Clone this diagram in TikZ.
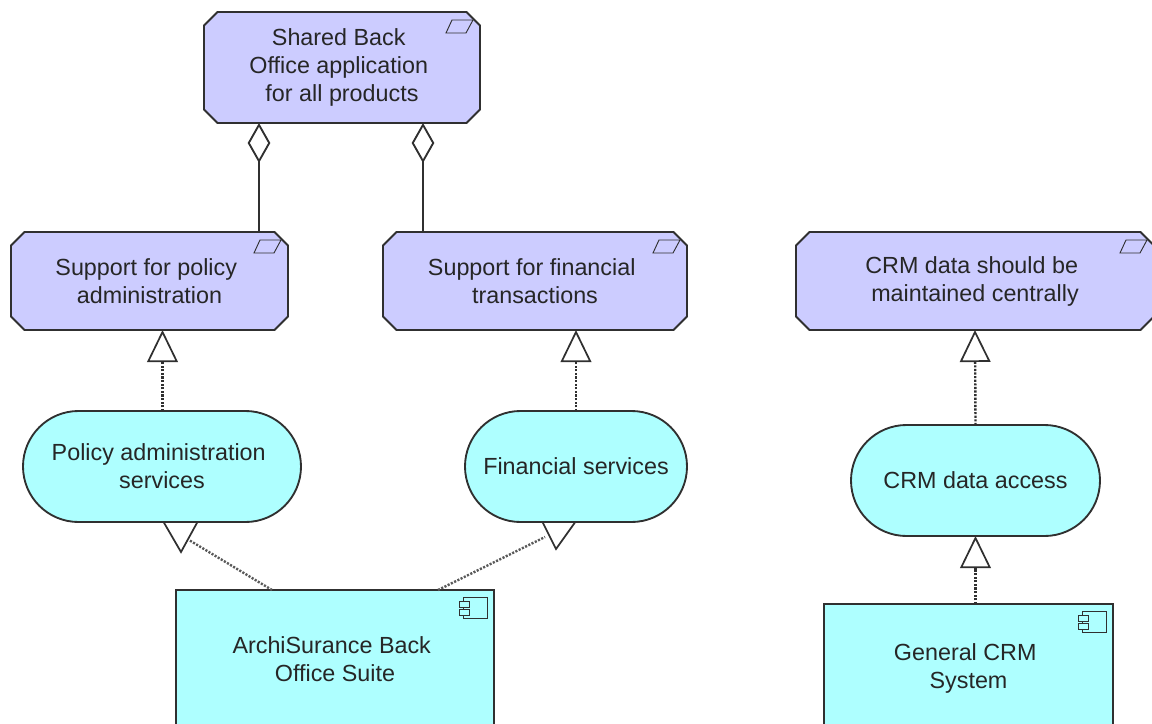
\documentclass[tikz,border=0pt]{standalone}
\usepackage{fontspec}
\setmainfont{Liberation Sans}
\usetikzlibrary{arrows.meta,shapes.misc}
\definecolor{goalfill}{HTML}{CCCCFF}
\definecolor{servfill}{HTML}{AEFFFF}
\definecolor{edgecol}{HTML}{303030}
\tikzset{
	every node/.style={align=center,font=\fontsize{17.5}{21}\selectfont,text=black!85,outer sep=0pt,inner sep=0pt},
	goal/.style={chamfered rectangle,chamfered rectangle xsep=7*0.75pt,chamfered rectangle ysep=6.5*0.75pt,draw=edgecol,line width=1.4pt,fill=goalfill},
	service/.style={rounded rectangle,draw=edgecol,line width=1.4pt,fill=servfill},
	component/.style={rectangle,draw=edgecol,line width=1.4pt,fill=servfill},
	aggregates/.style={draw=edgecol,line width=1.4pt,{Diamond[open,fill=white,length=30pt,width=17pt]}-},
	realizes/.style={draw=edgecol,line width=1.8pt,dash pattern=on 1.6pt off 1.1pt,-{Triangle[open,fill=white,length=24pt,width=23pt,line width=1.3pt]}},
	realizesline/.style={draw=edgecol!80,line width=1.8pt,dash pattern=on 1.6pt off 1.1pt},
	hollowtip/.style={draw=edgecol,line width=1.3pt,fill=white,line join=miter},
	iconline/.style={draw=edgecol,line width=0.7pt}
}
\newcommand{\trail}{\kern4.9pt\relax}
\newcommand{\goalicon}[1]{
	\begin{scope}[shift={(#1.north -| #1.east)}]
		\draw[iconline] (-34,21) -- (-28,8) -- (-7,8) -- (-14,21) -- cycle;
	\end{scope}
}
\newcommand{\compicon}[1]{
	\begin{scope}[shift={(#1.north east)}]
		\draw[iconline] (-31,7.5) rectangle (-6.5,28);
		\draw[iconline,fill=servfill] (-35,11) rectangle (-25,17);
		\draw[iconline,fill=servfill] (-35,19) rectangle (-25,25);
	\end{scope}
}
\begin{document}
\begin{tikzpicture}[x=0.75pt,y=-0.75pt]
	\useasboundingbox (0,0) rectangle (1152,724);
	% hollow tips that sit behind the services
	\coordinate (policytipl) at (163,521);
	\coordinate (policytipr) at (198,521);
	\coordinate (policytipb) at (181,552);
	\coordinate (fintipl) at (542,521);
	\coordinate (fintipr) at (576,521);
	\coordinate (fintipb) at (556,549);
	\draw[hollowtip] (policytipl) -- (policytipb) -- (policytipr) -- cycle;
	\draw[hollowtip] (fintipl) -- (fintipb) -- (fintipr) -- cycle;
	% goals
	\node[goal,minimum width=276*0.75pt,minimum height=111*0.75pt] (shared) at (342,67.5) {Shared Back\trail\\Office application\trail\\for all products};
	\node[goal,minimum width=277*0.75pt,minimum height=98*0.75pt] (policygoal) at (149.5,281) {Support for policy\trail\\administration};
	\node[goal,minimum width=304*0.75pt,minimum height=98*0.75pt] (fingoal) at (535,281) {Support for financial\trail\\transactions};
	\node[goal,minimum width=358*0.75pt,minimum height=98*0.75pt] (crmgoal) at (975,281) {CRM data should be\trail\\maintained centrally};
	% services
	\node[service,minimum width=278*0.75pt,minimum height=111*0.75pt] (policyserv) at (162,466.5) {Policy administration\trail\\services};
	\node[service,minimum width=222*0.75pt,minimum height=111*0.75pt] (finserv) at (576,466.5) {Financial services};
	\node[service,minimum width=249*0.75pt,minimum height=111*0.75pt] (crmserv) at (975.5,480.5) {CRM data access};
	% components
	\node[component,minimum width=318*0.75pt,minimum height=138*0.75pt] (backoffice) at (335,659) {ArchiSurance Back\trail\\Office Suite};
	\node[component,minimum width=289*0.75pt,minimum height=128*0.75pt] (crmsystem) at (968.5,668) {General CRM\trail\\System};
	% icons
	\goalicon{shared}
	\goalicon{policygoal}
	\goalicon{fingoal}
	\goalicon{crmgoal}
	\compicon{backoffice}
	\compicon{crmsystem}
	% connectors
	\draw[aggregates] ([xshift=-83*0.75pt]shared.south) -- ([xshift=109.5*0.75pt]policygoal.north);
	\draw[aggregates] ([xshift=81*0.75pt]shared.south) -- ([xshift=-112*0.75pt]fingoal.north);
	\draw[realizes] ([xshift=0.5*0.75pt]policyserv.north) -- ([xshift=13*0.75pt]policygoal.south);
	\draw[realizes] (finserv.north) -- ([xshift=41*0.75pt]fingoal.south);
	\draw[realizes] (crmserv.north) -- (crmgoal.south);
	\draw[realizes] ([xshift=7*0.75pt]crmsystem.north) -- (crmserv.south);
	\coordinate (policyend) at (189,540);
	\coordinate (finend) at (545,537);
	\draw[realizesline] ([xshift=-63*0.75pt]backoffice.north) -- (policyend);
	\draw[realizesline] ([xshift=103*0.75pt]backoffice.north) -- (finend);
\end{tikzpicture}
\end{document}
